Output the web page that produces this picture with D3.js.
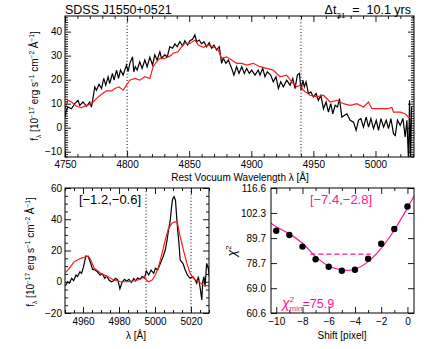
<!DOCTYPE html>
<html>
<head>
<meta charset="utf-8">
<script src="https://cdn.jsdelivr.net/npm/d3@7"></script>
<style>
  body { margin: 0; background: #fff; }
  svg text { font-family: "Liberation Sans", Arial, sans-serif; }
</style>
</head>
<body>
<svg id="chart" width="436" height="349"></svg>
<script>
// spectra: [wavelength, flux]
const topBlack = [[4750.0,4.4],[4751.1,7.2],[4752.4,8.6],[4755.2,7.9],[4757.8,10],[4760.5,11.4],[4761.9,9.3],[4764.5,10.7],[4767.3,8.9],[4769.9,10.7],[4771.3,8.6],[4774.0,17],[4775.3,15.6],[4777.4,18.1],[4779.4,16.3],[4781.2,20.5],[4782.8,17.7],[4784.7,21.2],[4786.0,18.4],[4788.2,22.6],[4789.5,19.8],[4791.5,24],[4793.1,20.5],[4794.7,24],[4796.8,21.9],[4799.5,26.1],[4800.8,23.3],[4802.2,26.8],[4804.4,29.5],[4805.4,23.3],[4806.6,25.4],[4808.1,24],[4810.2,27.4],[4812.1,24.7],[4814.3,28.2],[4816.1,25.4],[4818.3,29.3],[4820.5,26.1],[4822.3,30.3],[4824.2,28.2],[4826.4,31.6],[4827.7,28.9],[4830.4,30.3],[4832.3,29.5],[4834.4,33.7],[4836.6,33.1],[4838.5,34.9],[4840.3,33.7],[4842.5,35.8],[4844.7,34],[4846.5,36.2],[4848.7,34.4],[4850.6,36.2],[4852.7,36.8],[4854.6,38.6],[4856.0,35.8],[4858.1,36.5],[4860.0,34.9],[4861.9,35.8],[4864.0,33.7],[4866.1,35.4],[4868.1,33.1],[4869.9,34.4],[4872.1,32.3],[4874.2,33.7],[4876.1,26.8],[4877.4,28.9],[4879.6,26.8],[4881.5,28.2],[4884.2,24.7],[4886.0,21.9],[4888.2,25.4],[4890.1,22.6],[4892.3,25.4],[4894.4,22.6],[4896.3,24.7],[4898.4,22.6],[4900.3,24],[4903.0,21.9],[4905.6,24],[4907.0,21.9],[4909.2,24.7],[4911.0,21.2],[4912.9,23.3],[4915.6,21.9],[4917.7,19.1],[4919.9,21.2],[4921.8,16.3],[4923.7,19.1],[4925.8,17],[4928.5,19.8],[4931.2,17.7],[4933.4,20.5],[4935.2,16.3],[4937.1,21.9],[4938.7,22.6],[4940.1,15.6],[4941.5,19.8],[4942.7,17],[4944.1,19.1],[4946.0,14.2],[4947.9,14.9],[4950.0,12.8],[4952.2,14.2],[4954.0,11.4],[4956.0,13.5],[4958.1,7.9],[4960.2,10.7],[4962.1,6.5],[4964.0,10],[4965.6,5.8],[4967.5,9.3],[4969.4,8.6],[4971.0,12.1],[4972.9,4.4],[4974.8,5.1],[4976.9,5.8],[4979.6,3.1],[4982.3,2.3],[4984.4,-1.1],[4986.3,3.1],[4988.2,3.8],[4990.3,0.25],[4992.5,4.4],[4994.4,0.25],[4996.3,3.8],[4998.4,-0.4],[5000.6,3.1],[5002.4,-1.1],[5004.4,3.8],[5006.5,0.25],[5008.6,3.1],[5010.5,-0.4],[5012.4,3.8],[5014.5,-2.5],[5015.9,-3.2],[5017.7,3.1],[5019.9,0.96],[5022.1,3.8],[5023.9,-3.9],[5025.3,3.1],[5026.6,-14],[5027.4,11.4],[5028.2,-15],[5029.0,8.6]];

const topRed = [[4750,7.9],[4752.4,11.4],[4755.2,10.7],[4759.2,8.9],[4763.2,8.4],[4767.3,9.3],[4771.3,10],[4775.3,12.1],[4779.4,13.9],[4783.4,15.3],[4787.4,15.3],[4790.1,16.3],[4793.5,17],[4796.8,15.6],[4799.5,17.7],[4802.2,19.8],[4806.2,20.5],[4810.2,19.8],[4814.3,21.2],[4818.3,20.5],[4821.0,25.4],[4823.7,27.4],[4826.4,28.9],[4830.4,28.9],[4834.4,29.8],[4837.1,31],[4841.1,31.6],[4843.9,33.7],[4846.5,35.1],[4850.6,35.1],[4854.6,36.5],[4857.3,34.4],[4861.3,33.5],[4865.3,34.4],[4869.4,33.7],[4873.4,32.3],[4876.1,28.9],[4880.2,29.5],[4884.2,28.2],[4888.2,26.8],[4892.3,26.8],[4896.3,26.1],[4901.6,26.8],[4907.0,25.4],[4912.4,24.7],[4917.7,24],[4923.1,21.2],[4928.5,21.9],[4932.6,19.1],[4936.6,17],[4939.3,17.7],[4941.9,15.6],[4947.3,13.5],[4952.7,12.8],[4958.1,13.5],[4963.5,10.7],[4968.9,11.4],[4974.2,10],[4979.6,9.3],[4985.0,10],[4990.3,8.6],[4994.4,10.7],[4997.1,7.9],[5003.8,7.9],[5009.2,7.9],[5013.2,8.4],[5014.5,6.5],[5019.9,6.5],[5023.9,5.8],[5026.6,4.4],[5029.4,3.8]];

const zoomBlack = [[4950.2,-2.7],[4951.5,0],[4952.4,-1],[4953.7,2.2],[4954.8,0.7],[4956.1,4.3],[4957.0,3.3],[4958.3,6.4],[4959.2,5.4],[4960.3,9.6],[4961.6,16.5],[4962.9,16],[4964.0,12.8],[4965.3,8],[4966.6,7.5],[4968.0,6.4],[4969.5,4.3],[4970.8,5],[4972.1,2.2],[4973.2,3.7],[4974.4,1.1],[4975.8,0],[4976.9,0.7],[4978.1,2.2],[4979.4,1.1],[4980.5,-4.5],[4981.8,0],[4983.1,1.6],[4984.2,0.4],[4985.5,1.6],[4986.8,-0.5],[4988.2,2],[4989.2,0.5],[4990.4,2.5],[4991.5,1.5],[4992.9,3.5],[4994.1,2.2],[4995.2,7],[4996.5,4.3],[4997.8,7.5],[4999.3,5.4],[5000.2,8.6],[5001.5,7.5],[5003.0,11.8],[5004.5,16],[5005.7,20.3],[5006.7,26.7],[5007.5,33.1],[5008.5,39.5],[5009.2,48],[5009.8,53],[5010.6,54.5],[5011.4,52],[5012.0,42],[5012.6,33],[5013.3,24.6],[5014.0,13.9],[5015.5,11.8],[5016.8,7.5],[5018.0,4.3],[5019.5,2.2],[5021.0,3.3],[5022.3,1.1],[5023.2,-1],[5024.1,3.3],[5025.0,-3.2],[5026.0,-11.7],[5026.5,0],[5027.2,3.3],[5027.8,-3.2],[5028.7,11.8],[5029.6,8.6],[5030.2,3.3]];

const zoomRed = [[4950.2,5.8],[4952.4,8.6],[4955.1,12.8],[4958.8,15],[4961.6,16],[4962.9,16.5],[4964.3,13.9],[4966.2,8.6],[4969.9,5.4],[4973.6,3.3],[4977.2,1.1],[4980.9,0],[4984.6,0],[4988.2,0.5],[4991.9,1.6],[4993.8,3.3],[4995.2,1.1],[4996.5,0],[4998.4,1.1],[5000.2,4.3],[5002.0,9.6],[5003.9,18.2],[5005.7,26.7],[5007.5,34.2],[5009.4,37.4],[5011.2,38.4],[5012.5,37.4],[5014.0,28.8],[5015.8,20.3],[5017.7,11.8],[5019.5,5.4],[5021.3,2.2],[5024.1,0],[5026.9,-2.1],[5030.2,-2.7]];

// chi-square vs. shift
const shiftVals = [-10, -9, -8, -7, -6, -5, -4, -3, -2, -1, 0];
const chi2Vals = [93.2, 91.2, 85.8, 80.3, 77.2, 75.6, 76.0, 80.5, 87.1, 94.1, 105.8];
const fitShift = [-10.4, -10, -9, -8, -7, -6, -5, -4, -3, -2, -1, 0, 0.5];
const fitChi2 = [96.9, 95.2, 91.7, 87.3, 81.4, 77.5, 75.9, 76.2, 79.3, 85.0, 93.6, 105.0, 111.8];
const shiftRange = [-7.4, -2.8];
const shiftLevel = 82.5;

// ticks and markers
const topXTicks = [4750, 4800, 4850, 4900, 4950, 5000];
const topYTicks = [-10, 0, 10, 20, 30, 40];
const topLines = [4800, 4940];
const zoomXTicks = [4960, 4980, 5000, 5020];
const zoomYTicks = [-20, 0, 20, 40, 60];
const zoomLines = [4995, 5020];
const shiftTicks = [-10, -8, -6, -4, -2, 0];
const chi2Ticks = [116.6, 102.3, 89.7, 78.7, 69.0, 60.6];

const svg = d3.select("#chart");
const MAGENTA = "#ff1493";

// ---- scales
let xTop = d3.scaleLinear().domain([4750, 5031]).range([65, 414]);
let yTop = d3.scaleLinear().domain([-12.2, 46.5]).range([157, 16]);
let xZoom = d3.scaleLinear().domain([4950, 5030]).range([65, 209]);
let yZoom = d3.scaleLinear().domain([-20, 60]).range([313, 188]);
let xShift = d3.scaleLinear().domain([-10.4, 0.5]).range([271, 414]);
let yChi = d3.scaleLog().domain([60.6, 116.6]).range([313, 188]);

function ticks(axis, tx, ty, vals, size, fmt, pad) {
    let a = svg.append("g")
        .attr("transform", "translate(" + tx + "," + ty + ")")
        .call(axis.tickValues(vals).tickSize(size).tickSizeOuter(0)
            .tickPadding(pad || 3).tickFormat(fmt || ""));
    a.select(".domain").remove();
    a.selectAll("line").attr("stroke", "#000").attr("stroke-width", 0.9);
    a.selectAll("text").attr("font-size", 10).attr("fill", "#000")
        .attr("font-family", "'Liberation Sans', Arial, sans-serif");
    return a;
}

// draws the box with inward ticks on all 4 sides
function frame(x, y, o) {
    let [x0, x1] = x.range(), [y0, y1] = y.range();
    ticks(d3.axisBottom(x), 0, y0, o.xMajor, -6, o.xFmt, o.xPad);
    ticks(d3.axisTop(x), 0, y1, o.xMajor, -6);
    ticks(d3.axisLeft(y), x0, 0, o.yMajor, -6, o.yFmt, o.yPad);
    ticks(d3.axisRight(y), x1, 0, o.yMajor, -6);
    if (o.xMinor) {
        ticks(d3.axisBottom(x), 0, y0, o.xMinor, -3);
        ticks(d3.axisTop(x), 0, y1, o.xMinor, -3);
    }
    if (o.yMinor) {
        ticks(d3.axisLeft(y), x0, 0, o.yMinor, -3);
        ticks(d3.axisRight(y), x1, 0, o.yMinor, -3);
    }
    svg.append("rect").attr("x", x0).attr("y", y1)
        .attr("width", x1 - x0).attr("height", y0 - y1)
        .attr("fill", "none").attr("stroke", "#000").attr("stroke-width", 1);
}

function clip(id, x, y) {
    let [x0, x1] = x.range(), [y0, y1] = y.range();
    svg.append("clipPath").attr("id", id).append("rect")
        .attr("x", x0).attr("y", y1).attr("width", x1 - x0).attr("height", y0 - y1);
}

// rich text: parts = [[string, "n" | "sub" | "sup", fontSize]]
function rich(sel, parts, base) {
    let shift = 0;
    parts.forEach(function (p) {
        let target = p[1] == "sup" ? -0.45 * base : p[1] == "sub" ? 0.3 * base : 0;
        let t = sel.append("tspan").text(p[0])
            .attr("font-size", p[2] || (p[1] == "n" ? base : base * 0.65))
            .attr("dy", target - shift);
        if (p[3]) t.attr("font-style", p[3]);
        shift = target;
    });
}

function flux(sel, base) {
    rich(sel, [["f", "n"], ["λ", "sub"], [" [10", "n"], ["−17", "sup"], [" erg s", "n"], ["−1", "sup"],
        [" cm", "n"], ["−2", "sup"], [" Å", "n"], ["−1", "sup"], ["]", "n"]], base);
}

// ---- top panel
clip("clipTop", xTop, yTop);
let gTop = svg.append("g").attr("clip-path", "url(#clipTop)");

gTop.selectAll(".vline").data(topLines).enter().append("line")
    .attr("x1", d => xTop(d)).attr("x2", d => xTop(d))
    .attr("y1", 16).attr("y2", 157)
    .attr("stroke", "#000").attr("stroke-width", 1).attr("stroke-dasharray", "1,2.2");

let lineTop = d3.line().x(d => xTop(d[0])).y(d => yTop(d[1]));
gTop.append("path").datum(topBlack).attr("d", lineTop)
    .attr("fill", "none").attr("stroke", "#000").attr("stroke-width", 1.2);
gTop.append("path").datum(topRed).attr("d", lineTop)
    .attr("fill", "none").attr("stroke", "#ff1a1a").attr("stroke-width", 1.2);

frame(xTop, yTop, {
    xMajor: topXTicks, xMinor: d3.range(4750, 5031, 10).filter(v => v % 50),
    yMajor: topYTicks, yMinor: d3.range(-12, 47, 1).filter(v => v % 10),
    xFmt: d => d, yFmt: d3.format("d"), xPad: 4
});

svg.append("text").attr("x", 65).attr("y", 14).attr("font-size", 12.5).text("SDSS J1550+0521");
let dt = svg.append("text").attr("x", 411).attr("y", 14).attr("font-size", 12.5)
    .attr("text-anchor", "end").attr("xml:space", "preserve");
rich(dt, [["Δt", "n"], ["31", "sub", 8], ["  =  10.1 yrs", "n"]], 12.5);

svg.append("text").attr("x", 240).attr("y", 181).attr("font-size", 10)
    .attr("text-anchor", "middle").text("Rest Vocuum Wavelength λ [Å]");
let yl1 = svg.append("text").attr("transform", "translate(38,86) rotate(-90)")
    .attr("font-size", 10).attr("text-anchor", "middle");
flux(yl1, 10);

// ---- bottom left: zoom on the line
clip("clipZoom", xZoom, yZoom);
let gZoom = svg.append("g").attr("clip-path", "url(#clipZoom)");
gZoom.selectAll(".vline").data(zoomLines).enter().append("line")
    .attr("x1", d => xZoom(d)).attr("x2", d => xZoom(d))
    .attr("y1", 188).attr("y2", 313)
    .attr("stroke", "#000").attr("stroke-width", 1).attr("stroke-dasharray", "1,2.2");

let lineZoom = d3.line().x(d => xZoom(d[0])).y(d => yZoom(d[1]));
gZoom.append("path").datum(zoomBlack).attr("d", lineZoom)
    .attr("fill", "none").attr("stroke", "#000").attr("stroke-width", 1.2);
gZoom.append("path").datum(zoomRed).attr("d", lineZoom)
    .attr("fill", "none").attr("stroke", "#ff1a1a").attr("stroke-width", 1.2);

frame(xZoom, yZoom, {
    xMajor: zoomXTicks, xMinor: d3.range(4950, 5031, 5).filter(v => v % 20),
    yMajor: zoomYTicks, yMinor: d3.range(-20, 61, 5).filter(v => v % 20),
    xFmt: d => d, yFmt: d3.format("d"), xPad: 5
});

svg.append("text").attr("x", 110).attr("y", 204).attr("font-size", 13)
    .attr("text-anchor", "middle").text("[−1.2,−0.6]");
svg.append("text").attr("x", 136).attr("y", 339).attr("font-size", 10)
    .attr("text-anchor", "middle").text("λ [Å]");
let yl2 = svg.append("text").attr("transform", "translate(34,252) rotate(-90)")
    .attr("font-size", 10).attr("text-anchor", "middle");
flux(yl2, 10);

// ---- bottom right: chi2 vs shift
clip("clipChi", xShift, yChi);
let gChi = svg.append("g").attr("clip-path", "url(#clipChi)");

gChi.append("line")
    .attr("x1", xShift(shiftRange[0])).attr("x2", xShift(shiftRange[1]))
    .attr("y1", yChi(shiftLevel)).attr("y2", yChi(shiftLevel))
    .attr("stroke", MAGENTA).attr("stroke-width", 1.2).attr("stroke-dasharray", "5,3");

gChi.append("path").datum(d3.zip(fitShift, fitChi2))
    .attr("d", d3.line().curve(d3.curveCatmullRom).x(d => xShift(d[0])).y(d => yChi(d[1])))
    .attr("fill", "none").attr("stroke", MAGENTA).attr("stroke-width", 1.2);

gChi.selectAll("circle").data(d3.zip(shiftVals, chi2Vals)).enter().append("circle")
    .attr("cx", d => xShift(d[0])).attr("cy", d => yChi(d[1])).attr("r", 3.2)
    .attr("fill", "#000");

frame(xShift, yChi, {
    xMajor: shiftTicks, xMinor: d3.range(-10, 1, 1).filter(v => v % 2),
    yMajor: chi2Ticks, xFmt: d => d3.format("d")(d), yFmt: d3.format(".1f"), xPad: 5, yPad: 5
});

svg.append("text").attr("x", 341).attr("y", 204).attr("font-size", 13)
    .attr("text-anchor", "middle").attr("fill", MAGENTA).text("[−7.4,−2.8]");

let cm = svg.append("text").attr("x", 282).attr("y", 308).attr("fill", MAGENTA).attr("font-size", 12);
cm.append("tspan").text("χ").attr("font-size", 14).attr("font-style", "italic");
cm.append("tspan").text("2").attr("font-size", 8).attr("dy", -6);
cm.append("tspan").text("min").attr("font-size", 8).attr("dx", -4.5).attr("dy", 9);
cm.append("tspan").text("=75.9").attr("font-size", 12.5).attr("dy", -3);

let yl3 = svg.append("text").attr("transform", "translate(236,251) rotate(-90)")
    .attr("font-size", 12).attr("text-anchor", "middle");
yl3.append("tspan").text("χ").attr("font-style", "italic");
yl3.append("tspan").text("2").attr("font-size", 8).attr("dy", -5);

svg.append("text").attr("x", 342).attr("y", 339).attr("font-size", 10)
    .attr("text-anchor", "middle").text("Shift [pixel]");
</script>
</body>
</html>
